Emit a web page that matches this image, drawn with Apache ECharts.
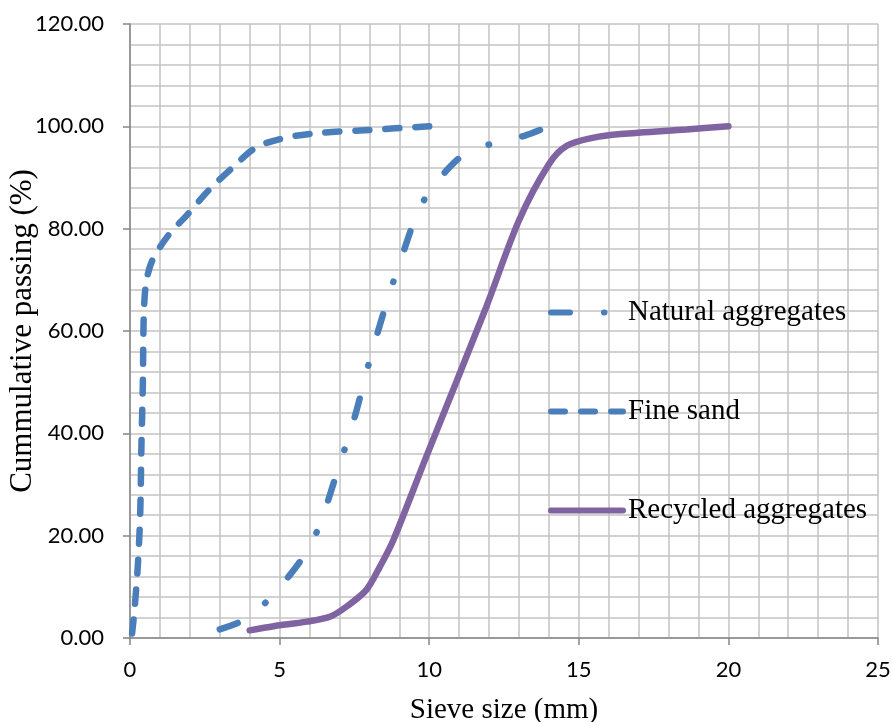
<!DOCTYPE html>
<html>
<head>
<meta charset="utf-8">
<script src="https://cdn.jsdelivr.net/npm/echarts@6/dist/echarts.min.js"></script>
<style>
html,body{margin:0;padding:0;background:#fff;}
#chart{width:892px;height:722px;}
</style>
</head>
<body>
<div id="chart"></div>
<script>
// Data
const seriesNames = ['Natural aggregates', 'Fine sand', 'Recycled aggregates'];

const naturalX = [3, 3.8, 4.6, 5.3, 5.8, 6.3, 6.9, 7.5, 8, 8.6, 9.2, 9.5, 9.95, 10.6, 11.2, 12.2, 13.2, 14];
const naturalY = [1.7, 3.5, 7.3, 12, 16, 21.5, 32, 43, 54, 66, 76.5, 81.5, 86.8, 91.5, 94.6, 96.8, 98.2, 100];

const fineX = [0.07, 0.15, 0.26, 0.34, 0.38, 0.43, 0.46, 0.54, 0.76, 1.32, 1.88, 2.66, 3.44, 4.22, 5.22, 6.33, 8, 10];
const fineY = [0.9, 5.5, 14, 24, 37, 50, 63, 69.5, 74, 79, 82.5, 87.7, 92, 95.9, 97.8, 98.7, 99.3, 100];

const recycledX = [4, 4.8, 5.9, 6.7, 7.3, 7.9, 8.35, 8.8, 9.9, 11.9, 13, 14, 14.6, 15.5, 16.4, 18.6, 20];
const recycledY = [1.5, 2.3, 3.2, 4.2, 6.4, 9.4, 13.9, 19.1, 35.4, 64.6, 81.6, 92.6, 96.2, 97.8, 98.5, 99.4, 100];

const xTicks = [0, 5, 10, 15, 20, 25];
const yTicks = [0, 20, 40, 60, 80, 100, 120];

const zip = (xs, ys) => xs.map((x, i) => [x, ys[i]]);

const blue = '#4a7ebb';
const purple = '#8064a2';
const axisGrey = '#868686';
const gridGrey = '#c3c3c3';
const serif = '"Liberation Serif", "Times New Roman", serif';
const sans = 'Lato, "Open Sans", sans-serif';

const chart = echarts.init(document.getElementById('chart'));
chart.setOption({
  animation: false,
  backgroundColor: '#ffffff',
  grid: { left: 130, right: 14, top: 24, bottom: 84, containLabel: false, outerBoundsMode: 'none' },
  legend: {
    orient: 'vertical',
    left: 548,
    top: 298,
    padding: 0,
    itemWidth: 72,
    itemHeight: 14,
    itemGap: 70,
    textStyle: { fontFamily: serif, fontSize: 29, color: '#000' },
    lineStyle: { width: 6, cap: 'round' },
    itemStyle: { opacity: 0 },
    data: seriesNames
  },
  xAxis: {
    type: 'value',
    min: xTicks[0],
    max: xTicks[xTicks.length - 1],
    interval: 5,
    name: 'Sieve size (mm)',
    nameLocation: 'middle',
    nameGap: 58,
    nameMoveOverlap: false,
    nameTextStyle: { fontFamily: serif, fontSize: 29, color: '#000', verticalAlign: 'top' },
    axisLine: { show: true, onZero: false, lineStyle: { color: axisGrey, width: 1.5 } },
    axisTick: { show: true, length: 7, lineStyle: { color: axisGrey, width: 1.5 } },
    minorTick: { show: false, splitNumber: 5 },
    axisLabel: { fontFamily: sans, fontSize: 22, color: '#000', margin: 21 },
    splitLine: { show: true, lineStyle: { color: gridGrey, width: 1.5 } },
    minorSplitLine: { show: true, lineStyle: { color: gridGrey, width: 1.5 } }
  },
  yAxis: {
    type: 'value',
    min: yTicks[0],
    max: yTicks[yTicks.length - 1],
    interval: 20,
    name: 'Cummulative passing (%)',
    nameLocation: 'middle',
    nameGap: 92,
    nameMoveOverlap: false,
    nameTextStyle: { fontFamily: serif, fontSize: 31, color: '#000' },
    axisLine: { show: true, lineStyle: { color: axisGrey, width: 1.5 } },
    axisTick: { show: true, length: 7, lineStyle: { color: axisGrey, width: 1.5 } },
    minorTick: { show: false, splitNumber: 5 },
    axisLabel: { fontFamily: sans, fontSize: 22, color: '#000', margin: 26, formatter: v => v.toFixed(2) },
    splitLine: { show: true, lineStyle: { color: gridGrey, width: 1.5 } },
    minorSplitLine: { show: true, lineStyle: { color: gridGrey, width: 1.5 } }
  },
  series: [
    {
      name: seriesNames[0],
      type: 'line',
      data: zip(naturalX, naturalY),
      smooth: 0.3,
      symbol: 'none',
      lineStyle: { color: blue, width: 6.5, type: [19, 34, 0.5, 34], cap: 'round' },
      itemStyle: { color: blue }
    },
    {
      name: seriesNames[1],
      type: 'line',
      data: zip(fineX, fineY),
      smooth: 0.3,
      symbol: 'none',
      lineStyle: { color: blue, width: 6.5, type: [14, 16], cap: 'round' },
      itemStyle: { color: blue }
    },
    {
      name: seriesNames[2],
      type: 'line',
      data: zip(recycledX, recycledY),
      smooth: 0.3,
      symbol: 'none',
      lineStyle: { color: purple, width: 6.5, cap: 'round' },
      itemStyle: { color: purple }
    }
  ]
});
</script>
</body>
</html>
